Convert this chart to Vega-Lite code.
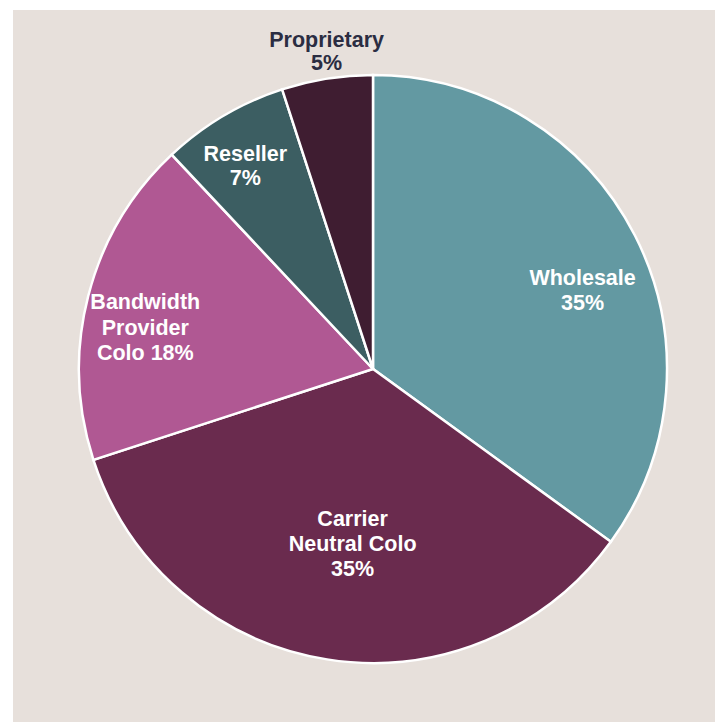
{
  "$schema": "https://vega.github.io/schema/vega-lite/v6.json",
  "width": 720,
  "height": 718,
  "autosize": {"type": "none"},
  "padding": {"left": 13, "top": 10, "right": -18, "bottom": -6},
  "background": "#ffffff",
  "view": {"fill": "#e7e0db", "stroke": null},
  "data": {"values": [
    {"category": "Wholesale", "value": 35, "label": "Wholesale\n35%"},
    {"category": "Carrier Neutral Colo", "value": 35, "label": "Carrier\nNeutral Colo\n35%"},
    {"category": "Bandwidth Provider Colo", "value": 18, "label": "Bandwidth\nProvider\nColo 18%"},
    {"category": "Reseller", "value": 7, "label": "Reseller\n7%"},
    {"category": "Proprietary", "value": 5, "label": "Proprietary\n5%"}
  ]},
  "transform": [{"window": [{"op": "row_number", "as": "rank"}]}],
  "encoding": {
    "theta": {"field": "value", "type": "quantitative", "stack": true, "scale": {"domain": [0, 100]}},
    "order": {"field": "rank", "type": "quantitative", "sort": "ascending"}
  },
  "layer": [
    {
      "mark": {"type": "arc", "outerRadius": 294, "stroke": "#ffffff", "strokeWidth": 2.5},
      "encoding": {
        "color": {"field": "category", "type": "nominal", "legend": null,
          "scale": {"domain": ["Wholesale", "Carrier Neutral Colo", "Bandwidth Provider Colo", "Reseller", "Proprietary"],
                    "range": ["#6399a2", "#6a2b4e", "#b05893", "#3c5e62", "#3f1d31"]}}
      }
    },
    {
      "mark": {"type": "text", "radius": 224, "dx": 10, "dy": 12, "lineBreak": "\n", "font": "Liberation Sans", "fontWeight": "bold", "fontSize": 21.5, "lineHeight": 25, "color": "#ffffff", "align": "center", "baseline": "middle"},
      "encoding": {"text": {"condition": {"test": "datum.category === 'Wholesale'", "field": "label"}, "value": ""}}
    },
    {
      "mark": {"type": "text", "radius": 175, "dx": 7, "dy": -22, "lineBreak": "\n", "font": "Liberation Sans", "fontWeight": "bold", "fontSize": 21.5, "lineHeight": 25, "color": "#ffffff", "align": "center", "baseline": "middle"},
      "encoding": {"text": {"condition": {"test": "datum.category === 'Carrier Neutral Colo'", "field": "label"}, "value": ""}}
    },
    {
      "mark": {"type": "text", "radius": 232, "dx": -3, "dy": -8, "lineBreak": "\n", "font": "Liberation Sans", "fontWeight": "bold", "fontSize": 21.5, "lineHeight": 25.5, "color": "#ffffff", "align": "center", "baseline": "middle"},
      "encoding": {"text": {"condition": {"test": "datum.category === 'Bandwidth Provider Colo'", "field": "label"}, "value": ""}}
    },
    {
      "mark": {"type": "text", "radius": 241, "dx": -5, "dy": -7, "lineBreak": "\n", "font": "Liberation Sans", "fontWeight": "bold", "fontSize": 21.5, "lineHeight": 24.5, "color": "#ffffff", "align": "center", "baseline": "middle"},
      "encoding": {"text": {"condition": {"test": "datum.category === 'Reseller'", "field": "label"}, "value": ""}}
    },
    {
      "mark": {"type": "text", "radius": 322, "dx": 4, "dy": -10, "lineBreak": "\n", "font": "Liberation Sans", "fontWeight": "bold", "fontSize": 21.5, "lineHeight": 23.5, "color": "#2b2d42", "align": "center", "baseline": "middle"},
      "encoding": {"text": {"condition": {"test": "datum.category === 'Proprietary'", "field": "label"}, "value": ""}}
    }
  ]
}
